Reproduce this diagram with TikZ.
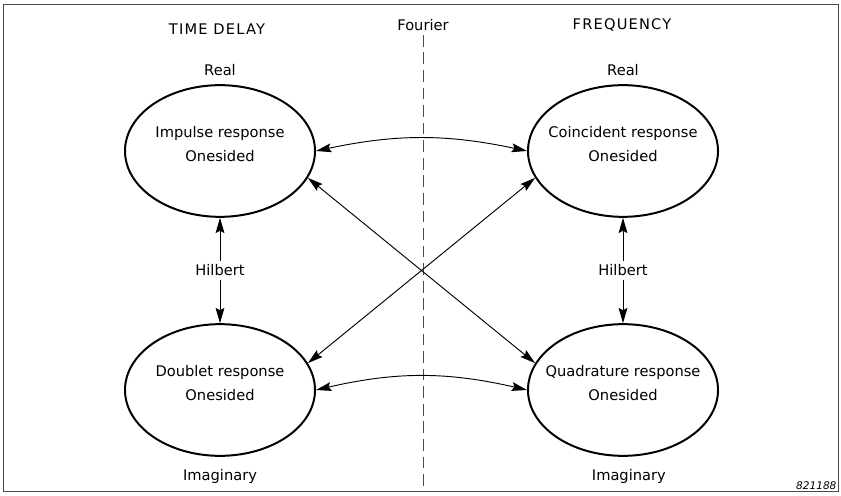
\documentclass[tikz,border=0pt]{standalone}
\usepackage{fontspec}
\setmainfont{DejaVu Sans}
\newfontfamily\headfont[LetterSpace=8]{DejaVu Sans}
\usetikzlibrary{arrows.meta, shapes.geometric, positioning}

\begin{document}
\begin{tikzpicture}[
    x=0.03cm, y=0.03cm,
    font=\fontsize{12.5}{15}\selectfont,
    resp/.style={ellipse, draw, line width=1.7pt, minimum width=5.7cm, minimum height=3.95cm, inner sep=0pt},
    resptext/.style={align=center, yshift=6pt, font=\fontsize{12.5}{21}\selectfont},
    head/.style={font=\fontsize{12.5}{15}\selectfont\headfont},
    figno/.style={font=\fontsize{9}{11}\selectfont\itshape, inner sep=1.5pt},
    link/.style={draw, line width=0.8pt, {Stealth[length=13pt,width=7.5pt,inset=2pt]}-{Stealth[length=13pt,width=7.5pt,inset=2pt]}},
    fourierline/.style={draw, black!70, line width=0.8pt, dash pattern=on 10pt off 5pt}
]
    \useasboundingbox (0,0) rectangle (841,495);

    \node [draw=black!70, line width=0.7pt, minimum width=25.05cm, minimum height=14.61cm, inner sep=0pt] (frame) at (420.5,247.5) {};

    \node [resp, label={[resptext]center:{Impulse response\\Onesided}}] (impulse) at (220,344) {};
    \node [resp, label={[resptext]center:{Coincident response\\Onesided}}] (coincident) at (623,344) {};
    \node [resp, label={[resptext]center:{Doublet response\\Onesided}}] (doublet) at (220,105) {};
    \node [resp, label={[resptext]center:{Quadrature response\\Onesided}}] (quadrature) at (623,105) {};

    \node [head] (timedelay) at (217,466) {TIME DELAY};
    \node (fourier) at (423,470) {Fourier};
    \node [head] (frequency) at (622,470) {FREQUENCY};

    \node [above=4pt of impulse] (realL) {Real};
    \node [above=4pt of coincident] (realR) {Real};
    \node [below=7pt of doublet] (imagL) {Imaginary};
    \node [below=7pt of quadrature, xshift=5pt] (imagR) {Imaginary};

    \node [figno, anchor=south east] (number) at (frame.south east) {821188};

    \draw [fourierline] (fourier.south) -- (fourier.south |- frame.south);

    \draw [link] (impulse) -- node [fill=white, inner sep=3pt] (hilbertL) {Hilbert} (doublet);
    \draw [link] (coincident) -- node [fill=white, inner sep=3pt] (hilbertR) {Hilbert} (quadrature);

    \draw [link] (impulse.east) to[bend left=12] (coincident.west);
    \draw [link] (doublet.east) to[bend left=13] (quadrature.west);

    \draw [link] (impulse.-17) -- (quadrature.163);
    \draw [link] (coincident.197) -- (doublet.17);

\end{tikzpicture}
\end{document}
